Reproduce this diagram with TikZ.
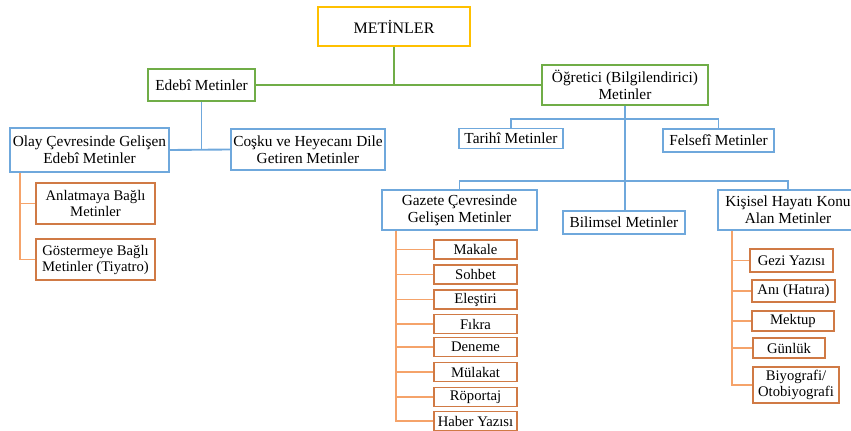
\documentclass[tikz,border=0pt]{standalone}
\usepackage{fontspec}
\setmainfont{Liberation Serif}
\definecolor{sari}{HTML}{FFC000}
\definecolor{yesil}{HTML}{70AD47}
\definecolor{mavi}{HTML}{6FA8DC}
\definecolor{turuncu}{HTML}{F5A36A}
\definecolor{kahve}{HTML}{D07A45}
\tikzset{
    kutu/.style 2 args={draw, line width=1.2pt, inner sep=0pt, align=center,
        minimum width=#1*0.75pt, minimum height=#2*0.75pt,
        font=\fontsize{11.5}{12.5}\selectfont},
    ana/.style={kutu={#1}, draw=sari},
    ust/.style={kutu={#1}, draw=yesil},
    orta/.style={kutu={#1}, draw=mavi},
    yaprak/.style={kutu={#1}, draw=kahve, font=\fontsize{11}{12}\selectfont},
    cizgi/.style={line width=1.4pt, draw=#1}
}

\begin{document}
\begin{tikzpicture}[x=0.75pt,y=-0.75pt]
    \path[use as bounding box, clip] (0,0) rectangle (851,431);

    % ust seviye
    \node[ana={152}{39}, font=\fontsize{12}{13}\selectfont] (metinler) at (394,26.5) {METİNLER};
    \node[ust={107}{32}] (edebi) at (201.5,85) {Edebî Metinler};
    \node[ust={166}{40}] (ogretici) at (625,85) {Öğretici (Bilgilendirici)\\Metinler};
    \draw[cizgi=yesil] (edebi) -- (ogretici);
    \draw[cizgi=yesil] (metinler.south) -- (metinler.south |- edebi.east);

    % edebi metinler
    \node[orta={159}{44}] (olay) at (89.5,150) {Olay Çevresinde Gelişen\\Edebî Metinler};
    \node[orta={154}{41}] (cosku) at (308,149.5) {Coşku ve Heyecanı Dile\\Getiren Metinler};
    \draw[cizgi=mavi] (olay.east) -- (cosku.west);
    \draw[cizgi=mavi] (edebi.south) -- (edebi.south |- olay.east);
    \node[yaprak={119}{41}] (anlatma) at (95.5,203.5) {Anlatmaya Bağlı\\Metinler};
    \node[yaprak={119}{41}] (gosterme) at (95.5,259.5) {Göstermeye Bağlı\\Metinler (Tiyatro)};
    \draw[cizgi=turuncu] ([xshift=11*0.75pt]olay.south west) |- (anlatma.west);
    \draw[cizgi=turuncu] ([xshift=11*0.75pt]olay.south west) |- (gosterme.west);

    % ogretici metinler
    \node[orta={104}{20}] (tarihi) at (511,138.5) {Tarihî Metinler};
    \node[orta={111}{23}] (felsefi) at (718.5,140.5) {Felsefî Metinler};
    \draw[cizgi=mavi] (tarihi.north) -- ++(0,-9) -| (felsefi.north);
    \node[orta={155}{40}] (gazete) at (459.5,210) {Gazete Çevresinde\\Gelişen Metinler};
    \node[orta={122}{23}] (bilimsel) at (624,222.5) {Bilimsel Metinler};
    \node[orta={140}{40}] (kisisel) at (788,210) {Kişisel Hayatı Konu\\Alan Metinler};
    \draw[cizgi=mavi] (gazete.north) -- ++(0,-8) -| (kisisel.north);
    \draw[cizgi=mavi] (ogretici.south) -- (ogretici.south |- bilimsel.north);

    % gazete cevresinde gelisen metinler
    \foreach \ad/\yazi/\y in {makale/Makale/249.5, sohbet/Sohbet/274.5,
        elestiri/Eleştiri/299.5, fikra/Fıkra/324, deneme/Deneme/347,
        mulakat/Mülakat/372, roportaj/Röportaj/397, haber/Haber Yazısı/421}{
        \node[yaprak={83}{19}] (\ad) at (475.5,\y) {\yazi};
        \draw[cizgi=turuncu] ([xshift=15*0.75pt]gazete.south west) |- (\ad.west);
    }

    % kisisel hayati konu alan metinler
    \node[yaprak={83}{23}] (gezi) at (791.5,260.5) {Gezi Yazısı};
    \node[yaprak={83}{22}] (ani) at (793.5,291) {Anı (Hatıra)};
    \node[yaprak={82}{20}] (mektup) at (793,321) {Mektup};
    \node[yaprak={72}{20}] (gunluk) at (789,348) {Günlük};
    \node[yaprak={86}{36}] (biyografi) at (796,385) {Biyografi/\\Otobiyografi};
    \foreach \ad in {gezi,ani,mektup,gunluk,biyografi}
        \draw[cizgi=turuncu] ([xshift=15*0.75pt]kisisel.south west) |- (\ad.west);
\end{tikzpicture}
\end{document}
